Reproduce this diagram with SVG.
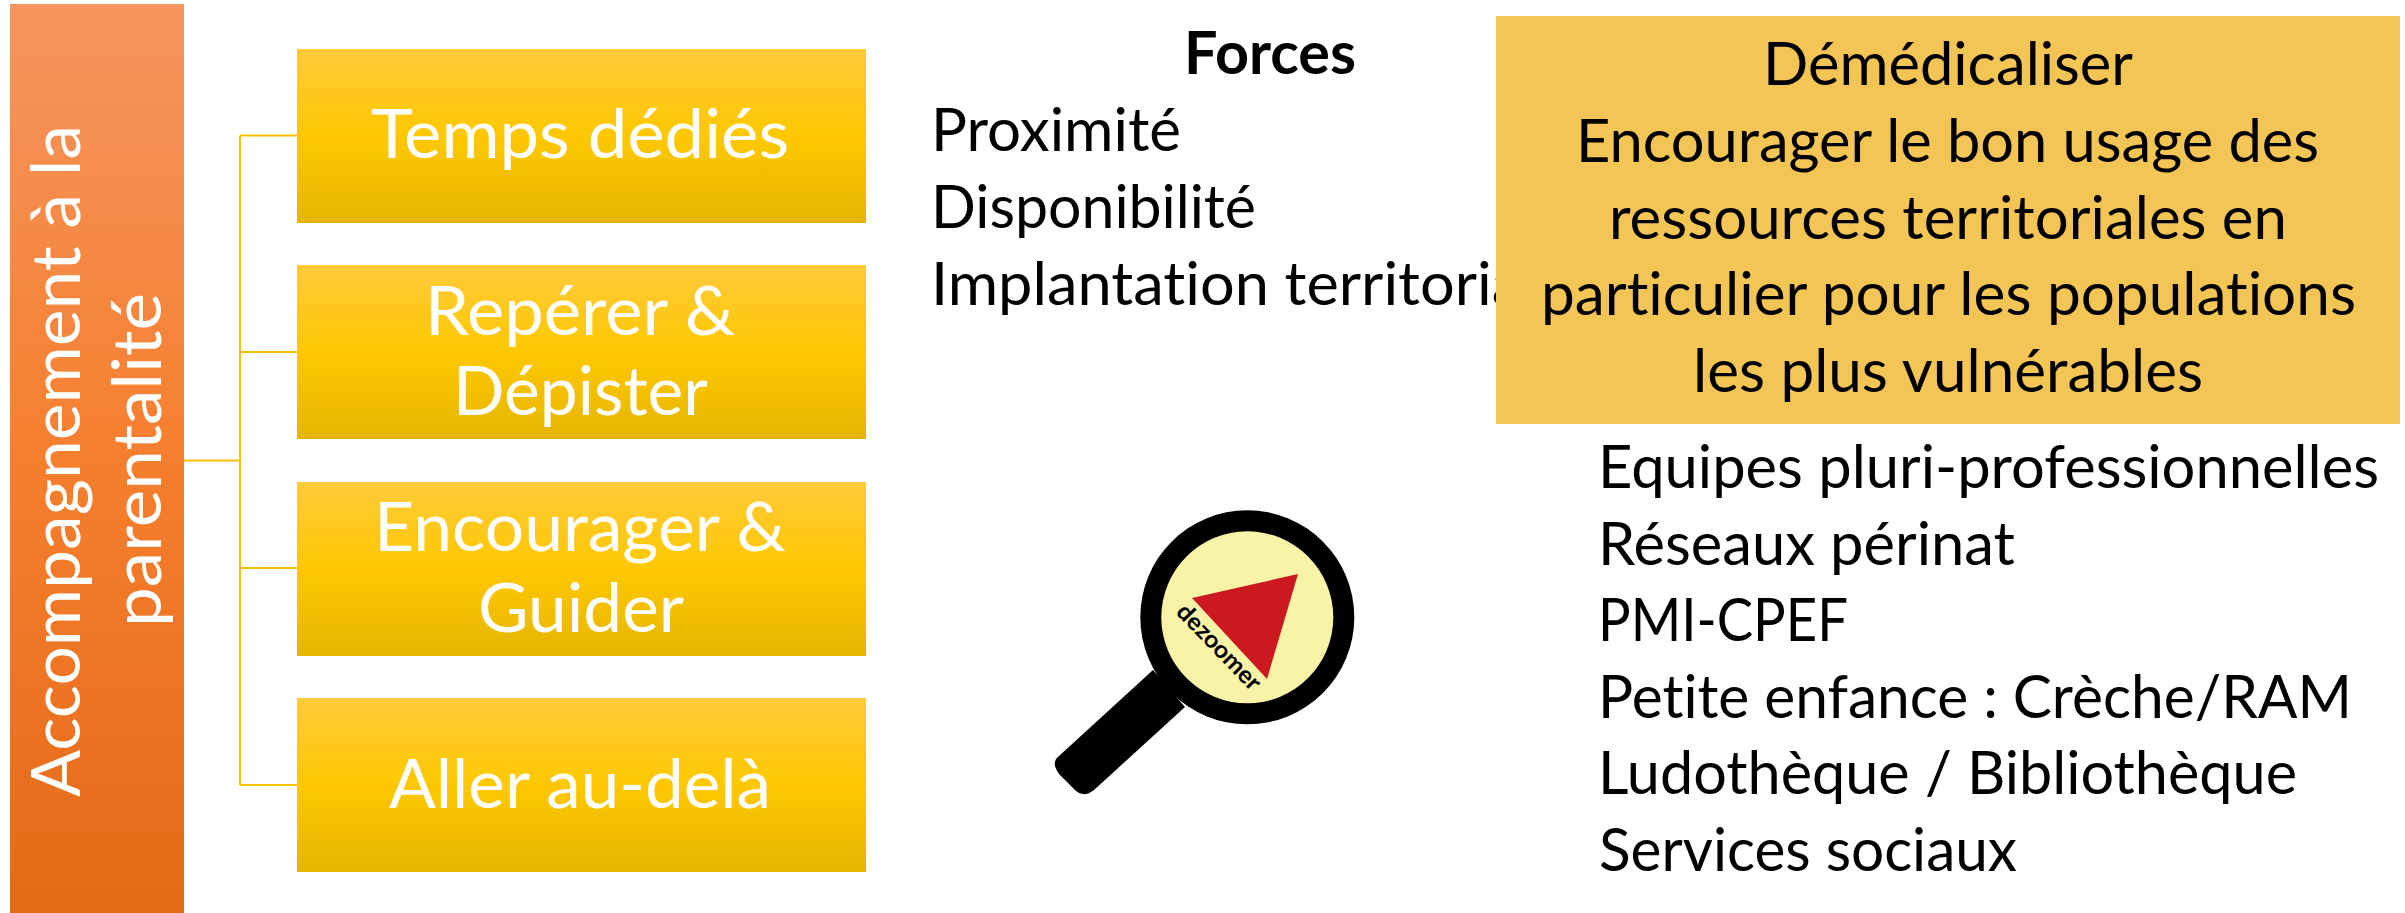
<svg xmlns="http://www.w3.org/2000/svg" width="2405" height="913" viewBox="0 0 2405 913">
<style>
text{font-family:Lato,"Liberation Sans",sans-serif;font-variant-ligatures:none;}
.w{fill:#fff;font-size:68px;}
.k{fill:#000;font-size:60px;}
.box{fill:url(#gy);}
.c{fill:none;stroke:#ffc000;stroke-width:2;}
</style>
<defs>
<linearGradient id="gy" x1="0" y1="0" x2="0" y2="1"><stop offset="0" stop-color="#ffca3c"/><stop offset="0.5" stop-color="#ffc800"/><stop offset="1" stop-color="#e5b500"/></linearGradient>
<linearGradient id="go" x1="0" y1="0" x2="0" y2="1"><stop offset="0" stop-color="#f4955f"/><stop offset="0.5" stop-color="#f67f2e"/><stop offset="1" stop-color="#e36a17"/></linearGradient>
</defs>
<g id="connectors"><path class="c" d="M184 460.500H240M240 135.500V785M240 135.500H297M240 352H297M240 568H297M240 785H297"/></g>
<g id="parent"><rect x="10" y="4" width="174" height="909" fill="url(#go)"/>
<text class="w" transform="translate(80 797) rotate(-90)" textLength="672" lengthAdjust="spacingAndGlyphs">Accompagnement à la</text>
<text class="w" transform="translate(161 627) rotate(-90)" textLength="334" lengthAdjust="spacingAndGlyphs">parentalité</text></g>
<g id="n1"><rect class="box" x="297" y="49" width="569" height="174"/><text class="w" x="371" y="158" textLength="418" lengthAdjust="spacingAndGlyphs">Temps dédiés</text></g>
<g id="n2"><rect class="box" x="297" y="265" width="569" height="174"/><text class="w" x="425" y="335" textLength="310" lengthAdjust="spacingAndGlyphs">Repérer &amp;</text><text class="w" x="453" y="415" textLength="255" lengthAdjust="spacingAndGlyphs">Dépister</text></g>
<g id="n3"><rect class="box" x="297" y="482" width="569" height="174"/><text class="w" x="374" y="551" textLength="412" lengthAdjust="spacingAndGlyphs">Encourager &amp;</text><text class="w" x="478" y="632" textLength="206" lengthAdjust="spacingAndGlyphs">Guider</text></g>
<g id="n4"><rect class="box" x="297" y="698" width="569" height="174"/><text class="w" x="389" y="808" textLength="382" lengthAdjust="spacingAndGlyphs">Aller au-delà</text></g>
<g id="forces">
<text class="k" x="1184" y="74" font-weight="700" textLength="172" lengthAdjust="spacingAndGlyphs">Forces</text>
<text class="k" x="931" y="151" textLength="250" lengthAdjust="spacingAndGlyphs">Proximité</text>
<text class="k" x="931" y="228" textLength="325" lengthAdjust="spacingAndGlyphs">Disponibilité</text>
<text class="k" x="931" y="305" textLength="638" lengthAdjust="spacingAndGlyphs">Implantation territoriale</text></g>
<g id="demedicaliser"><rect x="1496" y="16" width="904" height="408" fill="#f2c555"/>
<text class="k" x="1763" y="85" textLength="370" lengthAdjust="spacingAndGlyphs">Démédicaliser</text>
<text class="k" x="1576" y="162" textLength="743" lengthAdjust="spacingAndGlyphs">Encourager le bon usage des</text>
<text class="k" x="1609" y="239" textLength="678" lengthAdjust="spacingAndGlyphs">ressources territoriales en</text>
<text class="k" x="1541" y="315" textLength="815" lengthAdjust="spacingAndGlyphs">particulier pour les populations</text>
<text class="k" x="1693" y="392" textLength="510" lengthAdjust="spacingAndGlyphs">les plus vulnérables</text></g>
<g id="resources">
<text class="k" x="1598" y="488" textLength="781" lengthAdjust="spacingAndGlyphs">Equipes pluri-professionnelles</text>
<text class="k" x="1598" y="565" textLength="417" lengthAdjust="spacingAndGlyphs">Réseaux périnat</text>
<text class="k" x="1598" y="641" textLength="250" lengthAdjust="spacingAndGlyphs">PMI-CPEF</text>
<text class="k" x="1598" y="718" textLength="754" lengthAdjust="spacingAndGlyphs">Petite enfance : Crèche/RAM</text>
<text class="k" x="1598" y="794" textLength="699" lengthAdjust="spacingAndGlyphs">Ludothèque / Bibliothèque</text>
<text class="k" x="1599" y="871" textLength="418" lengthAdjust="spacingAndGlyphs">Services sociaux</text></g>
<g id="dezoomer">
<path d="M1153 670L1185 707L1094 790Q1084 798 1076 791L1060 775Q1050 763 1059 756Z" fill="#000"/>
<circle cx="1247.300" cy="617.300" r="107" fill="#000"/>
<circle cx="1247.300" cy="617.300" r="86" fill="#f9f3a8"/>
<polygon points="1298,574 1192,598 1267,679" fill="#cc181f"/>
<text transform="translate(1175 613) rotate(46)" font-size="24" font-weight="700" fill="#000" textLength="110" lengthAdjust="spacingAndGlyphs">dezoomer</text></g>
</svg>
